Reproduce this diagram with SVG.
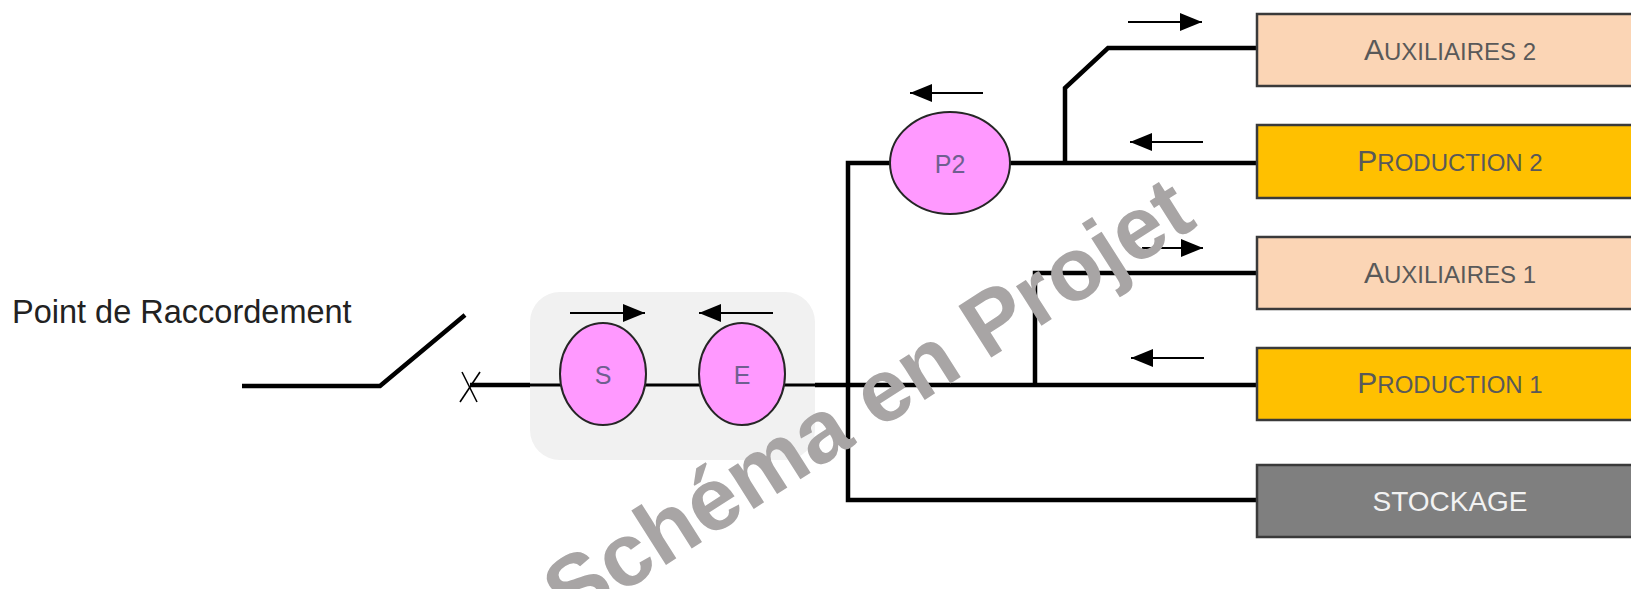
<svg xmlns="http://www.w3.org/2000/svg" width="1631" height="589" viewBox="0 0 1631 589">
<style>
.wire{fill:none;stroke:#000;stroke-width:4.5;stroke-linejoin:miter}
.thin{fill:none;stroke:#000;stroke-width:3}
.arr{fill:none;stroke:#000;stroke-width:2.2;marker-end:url(#ah)}
.box{stroke:#3a3a3a;stroke-width:2.5}
.aux{fill:#fbd5b5}
.prod{fill:#ffc000}
.stock{fill:#7f7f7f}
.lbl{font-family:"Liberation Sans",Arial,sans-serif;fill:#595959;text-anchor:middle}
.big{font-size:30px}
.sm{font-size:24px}
.ell{fill:#ff99ff;stroke:#262626;stroke-width:2}
.etxt{font-family:"Liberation Sans",Arial,sans-serif;font-size:25px;fill:#6f5f90;text-anchor:middle}
</style>
<defs>
<marker id="ah" markerUnits="userSpaceOnUse" markerWidth="24" markerHeight="18" refX="22" refY="9" orient="auto">
<path d="M0,0 L22,9 L0,18 Z" fill="#000"/>
</marker>
</defs>
<rect width="1631" height="589" fill="#fff"/>

<g id="label-point">
<text x="12" y="323" font-family="'Liberation Sans',Arial,sans-serif" font-size="32.5" fill="#222">Point de Raccordement</text>
</g>

<g id="group-bg">
<rect x="530" y="292" width="285" height="168" rx="30" fill="#f1f1f1"/>
</g>

<g id="connectors">
<polyline class="wire" points="242,386 380,386 465,315"/>
<line x1="462" y1="372" x2="477" y2="402" stroke="#000" stroke-width="1.6"/>
<line x1="480" y1="372" x2="460" y2="402" stroke="#000" stroke-width="1.6"/>
<line class="wire" x1="470" y1="385" x2="530" y2="385"/>
<line class="thin" x1="530" y1="385" x2="815" y2="385"/>
<line class="wire" x1="815" y1="385" x2="1257" y2="385"/>
<polyline class="wire" points="890,163 848,163 848,500 1257,500"/>
<line class="wire" x1="1009" y1="163" x2="1257" y2="163"/>
<polyline class="wire" points="1065,163 1065,88 1108,48 1257,48"/>
<polyline class="wire" points="1035,385 1035,273 1257,273"/>
<line class="arr" x1="570" y1="313" x2="645" y2="313"/>
<line class="arr" x1="773" y1="313" x2="699" y2="313"/>
<line class="arr" x1="983" y1="93" x2="910" y2="93"/>
<line class="arr" x1="1128" y1="22" x2="1202" y2="22"/>
<line class="arr" x1="1203" y1="142" x2="1130" y2="142"/>
<line class="arr" x1="1142" y1="248" x2="1203" y2="248"/>
<line class="arr" x1="1204" y1="358" x2="1131" y2="358"/>
</g>

<g id="node-S">
<ellipse class="ell" cx="603" cy="374" rx="43" ry="51"/>
<text class="etxt" x="603" y="384">S</text>
</g>
<g id="node-E">
<ellipse class="ell" cx="742" cy="374" rx="43" ry="51"/>
<text class="etxt" x="742" y="384">E</text>
</g>
<g id="node-P2">
<ellipse class="ell" cx="950" cy="163" rx="60" ry="51"/>
<text class="etxt" x="950" y="173">P2</text>
</g>

<g id="node-aux2">
<rect class="box aux" x="1257" y="14" width="390" height="72"/>
<text class="lbl" x="1450" y="60"><tspan class="big">A</tspan><tspan class="sm">UXILIAIRES 2</tspan></text>
</g>
<g id="node-prod2">
<rect class="box prod" x="1257" y="125" width="390" height="73"/>
<text class="lbl" x="1450" y="171"><tspan class="big">P</tspan><tspan class="sm">RODUCTION 2</tspan></text>
</g>
<g id="node-aux1">
<rect class="box aux" x="1257" y="237" width="390" height="72"/>
<text class="lbl" x="1450" y="283"><tspan class="big">A</tspan><tspan class="sm">UXILIAIRES 1</tspan></text>
</g>
<g id="node-prod1">
<rect class="box prod" x="1257" y="348" width="390" height="72"/>
<text class="lbl" x="1450" y="393"><tspan class="big">P</tspan><tspan class="sm">RODUCTION 1</tspan></text>
</g>
<g id="node-stockage">
<rect class="box stock" x="1257" y="465" width="390" height="72"/>
<text x="1450" y="511" font-family="'Liberation Sans',Arial,sans-serif" font-size="28" fill="#f2f2f2" text-anchor="middle">STOCKAGE</text>
</g>

<g id="watermark">
<text x="0" y="0" transform="translate(884,426) rotate(-32.5)" font-family="'Liberation Sans',Arial,sans-serif" font-weight="bold" font-size="89" fill="#a8a5a5" text-anchor="middle">Schéma en Projet</text>
</g>
</svg>
